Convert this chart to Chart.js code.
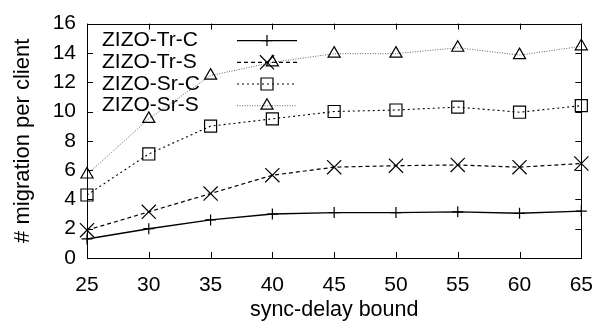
<!DOCTYPE html>
<html>
<head>
<meta charset="utf-8">
<script src="https://cdn.jsdelivr.net/npm/chart.js@4/dist/chart.umd.min.js"></script>
<style>
    html, body { margin: 0; padding: 0; background: #fff; }
    #wrap { width: 608px; height: 326px; }
</style>
</head>
<body>
<div id="wrap"><canvas id="chart"></canvas></div>
<script>
// Data
const syncDelay = [25, 30, 35, 40, 45, 50, 55, 60, 65];
const trC = [1.3, 2.0, 2.6, 3.0, 3.1, 3.1, 3.15, 3.05, 3.2];
const trS = [1.9, 3.15, 4.4, 5.65, 6.2, 6.3, 6.35, 6.2, 6.45];
const srC = [4.3, 7.1, 9.0, 9.5, 10.0, 10.1, 10.3, 9.95, 10.4];
const srS = [5.7, 9.5, 12.45, 13.35, 13.95, 13.95, 14.35, 13.85, 14.45];
const seriesNames = ['ZIZO-Tr-C', 'ZIZO-Tr-S', 'ZIZO-Sr-C', 'ZIZO-Sr-S'];
const yTicks = [0, 2, 4, 6, 8, 10, 12, 14, 16];
const xTicks = [25, 30, 35, 40, 45, 50, 55, 60, 65];

const FONT = '"Liberation Sans", Arial, Helvetica, sans-serif';

function toPoints(values) {
    return syncDelay.map((x, i) => ({ x: x, y: values[i] }));
}

function makeSeries(label, values, style) {
    return Object.assign({
        label: label,
        data: toPoints(values),
        borderColor: '#000',
        borderWidth: 1.2,
        pointBorderColor: '#000',
        pointBackgroundColor: 'rgba(0,0,0,0)',
        pointBorderWidth: 1.2,
        pointHoverRadius: 0,
        tension: 0,
        fill: false,
        clip: false
    }, style);
}

// gnuplot style frame with inward ticks, and a text-then-sample key
const framePlugin = {
    id: 'frame',
    beforeDatasetsDraw(chart) {
        const { ctx, chartArea: a, scales } = chart;
        ctx.save();
        ctx.strokeStyle = '#000';
        ctx.lineWidth = 1;
        ctx.strokeRect(Math.round(a.left) + 0.5, Math.round(a.top) + 0.5,
            Math.round(a.right - a.left), Math.round(a.bottom - a.top));
        ctx.beginPath();
        yTicks.forEach(v => {
            const py = Math.round(scales.y.getPixelForValue(v)) + 0.5;
            ctx.moveTo(a.left, py); ctx.lineTo(a.left + 6, py);
            ctx.moveTo(a.right, py); ctx.lineTo(a.right - 6, py);
        });
        xTicks.forEach(v => {
            const px = Math.round(scales.x.getPixelForValue(v)) + 0.5;
            ctx.moveTo(px, a.bottom); ctx.lineTo(px, a.bottom - 6);
            ctx.moveTo(px, a.top); ctx.lineTo(px, a.top + 6);
        });
        ctx.stroke();

        // key
        ctx.font = '21px ' + FONT;
        ctx.textBaseline = 'middle';
        ctx.textAlign = 'left';
        chart.data.datasets.forEach((ds, i) => {
            const y = a.top + 17 + i * 21.7;
            ctx.fillStyle = '#000';
            ctx.fillText(ds.label, a.left + 15, y);
            ctx.save();
            ctx.strokeStyle = ds.borderColor;
            ctx.lineWidth = ds.borderWidth;
            ctx.setLineDash(ds.borderDash || []);
            ctx.beginPath();
            ctx.moveTo(a.left + 150, y);
            ctx.lineTo(a.left + 210, y);
            ctx.stroke();
            ctx.restore();
            ctx.save();
            ctx.strokeStyle = '#000';
            ctx.fillStyle = 'rgba(0,0,0,0)';
            ctx.lineWidth = ds.pointBorderWidth;
            Chart.helpers.drawPoint(ctx, { pointStyle: ds.pointStyle, radius: ds.pointRadius, rotation: 0, borderWidth: ds.pointBorderWidth }, a.left + 180, y);
            ctx.restore();
        });
        ctx.restore();
    }
};

const ctx = document.getElementById('chart').getContext('2d');
new Chart(ctx, {
    type: 'line',
    data: {
        datasets: [
            makeSeries(seriesNames[0], trC, { pointStyle: 'cross', pointRadius: 5.5, borderWidth: 1.4 }),
            makeSeries(seriesNames[1], trS, { pointStyle: 'crossRot', pointRadius: 10, borderDash: [4, 3] }),
            makeSeries(seriesNames[2], srC, { pointStyle: 'rect', pointRadius: 8.5, borderDash: [2, 3], borderWidth: 1.1 }),
            makeSeries(seriesNames[3], srS, { pointStyle: 'triangle', pointRadius: 7, borderDash: [1, 1.5], borderWidth: 0.9, borderColor: '#555' })
        ]
    },
    options: {
        responsive: true,
        maintainAspectRatio: false,
        animation: false,
        layout: { padding: { left: 0, right: 19, top: 18, bottom: 0 } },
        plugins: {
            legend: { display: false },
            tooltip: { enabled: false }
        },
        scales: {
            x: {
                type: 'linear',
                min: 25,
                max: 65,
                afterFit: scale => { scale.height = 68; },
                afterBuildTicks: scale => { scale.ticks = xTicks.map(v => ({ value: v })); },
                grid: { display: false, drawTicks: false },
                border: { display: false },
                ticks: { color: '#000', padding: 15, font: { family: FONT, size: 21 } },
                title: {
                    display: true,
                    text: 'sync-delay bound',
                    color: '#000',
                    padding: { top: 0, bottom: 3 },
                    font: { family: FONT, size: 21.5 }
                }
            },
            y: {
                min: 0,
                max: 16,
                afterFit: scale => { scale.width = 87; },
                afterBuildTicks: scale => { scale.ticks = yTicks.map(v => ({ value: v })); },
                grid: { display: false, drawTicks: false },
                border: { display: false },
                ticks: { color: '#000', padding: 11, font: { family: FONT, size: 21 } },
                title: {
                    display: true,
                    text: '# migration per client',
                    color: '#000',
                    padding: { top: 10, bottom: 0 },
                    font: { family: FONT, size: 22 }
                }
            }
        }
    },
    plugins: [framePlugin]
});
</script>
</body>
</html>
